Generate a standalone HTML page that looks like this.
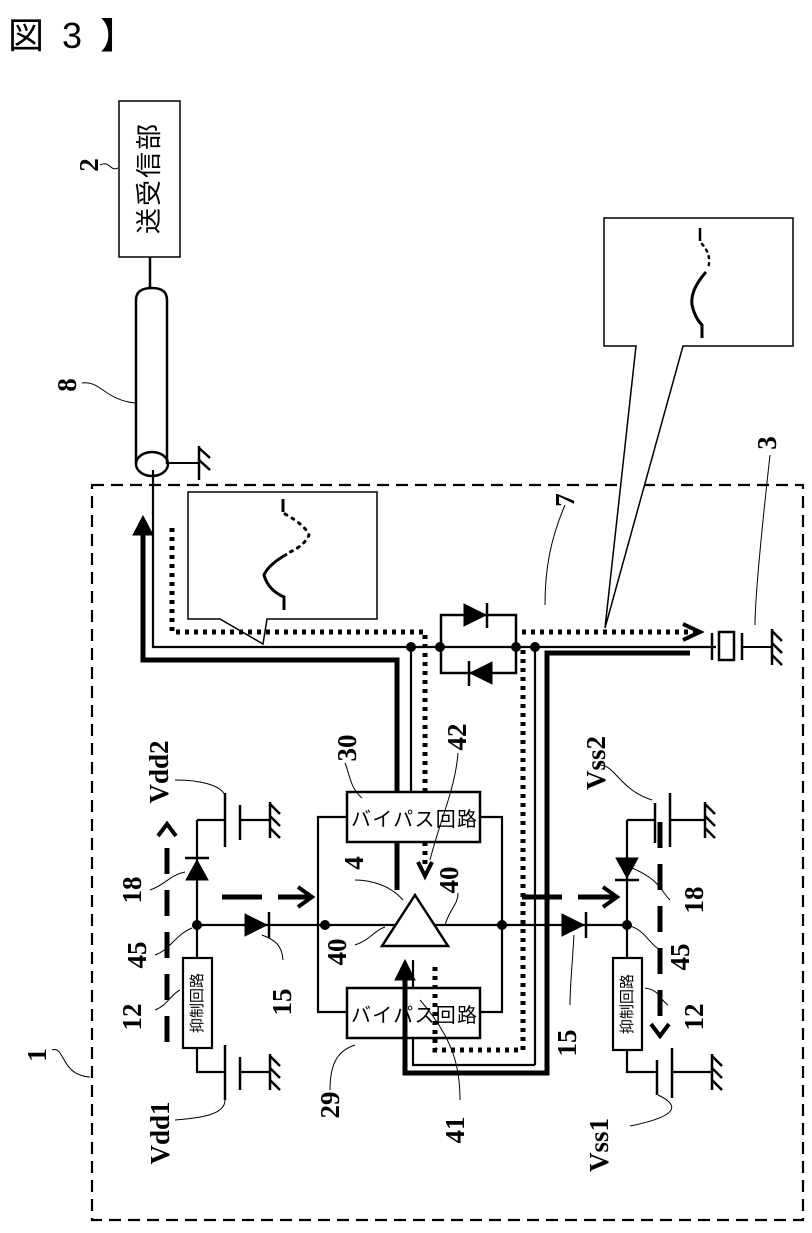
<!DOCTYPE html>
<html><head><meta charset="utf-8"><style>
html,body{margin:0;padding:0;background:#fff}
svg{display:block}
text{font-family:"Liberation Serif","Noto Serif CJK SC",serif;font-weight:bold;fill:#000}
.j{font-family:"Liberation Sans","Noto Sans CJK JP",sans-serif;font-weight:normal}
</style></head><body>
<svg width="812" height="1233" viewBox="0 0 812 1233" xmlns="http://www.w3.org/2000/svg">
<defs>
<g id="gnd"><line x1="0" y1="-18" x2="0" y2="18" stroke="#000" stroke-width="2.5"/><line x1="0" y1="-16" x2="10" y2="-6" stroke="#000" stroke-width="2.5"/><line x1="0" y1="-4" x2="10" y2="6" stroke="#000" stroke-width="2.5"/><line x1="0" y1="8" x2="10" y2="18" stroke="#000" stroke-width="2.5"/></g>
</defs>
<!-- title -->
<text x="8" y="48" class="j" font-size="36">図</text>
<text x="62" y="48" class="j" font-size="36">3</text>
<text x="100" y="48" class="j" font-size="36">】</text>

<g fill="none" stroke="#000">
<rect x="119" y="101" width="61" height="156" stroke-width="1.5"/>
<line x1="150" y1="257" x2="150" y2="288" stroke-width="2.5"/>
<path d="M136,300 Q136,288 152,288 Q167,288 167,300 L167,464 M136,300 L136,464" stroke-width="2.5"/>
<ellipse cx="152" cy="464" rx="16" ry="12" stroke-width="2.5"/>
<line x1="168" y1="463" x2="199" y2="463" stroke-width="2"/>
<line x1="199" y1="446" x2="199" y2="480" stroke-width="2.5"/>
<line x1="199" y1="448" x2="210" y2="458" stroke-width="2.5"/><line x1="199" y1="460" x2="210" y2="470" stroke-width="2.5"/>
<rect x="92" y="485" width="711" height="735" stroke-width="2.2" stroke-dasharray="12,7"/>
<path d="M100,165 C110,160 110,172 118,168" stroke-width="1"/>
<path d="M82,383 C100,380 105,400 135,403" stroke-width="1"/>
<path d="M565,505 C550,540 545,570 545,605" stroke-width="1"/>
<path d="M770,455 C765,500 755,590 755,625" stroke-width="1"/>
<path d="M52,1050 C65,1045 60,1075 90,1077" stroke-width="1"/>
<path d="M188,492 L377,492 L377,619 L267,619 L263,644 L220,619 L188,619 Z" stroke-width="1.5" fill="#fff"/>
<path d="M283,499 L283,512" stroke-width="3"/>
<path d="M285,514 Q305,525 309,535 Q305,545 290,552" stroke-width="3" stroke-dasharray="2,6" stroke-linecap="round"/>
<path d="M287,554 Q268,565 264,575 Q268,590 284,597 L284,610" stroke-width="3"/>
<path d="M604,218 L793,218 L793,346 L683,346 L605,628 L636,346 L604,346 Z" stroke-width="1.5" fill="#fff"/>
<path d="M700,228 L700,241" stroke-width="2.5"/>
<path d="M702,244 Q712,255 708,268" stroke-width="2.5" stroke-dasharray="2,5" stroke-linecap="round"/>
<path d="M706,272 Q690,290 692,305 Q695,318 702,325 L702,338" stroke-width="3"/>

<path d="M153,470 L153,647 L716,647" stroke-width="2.2"/>
<path d="M143,528 L143,660 L397,660 L397,890" stroke-width="5"/>
<path d="M133,535 L143,516 L153,535 Z" fill="#000"/>
<path d="M172,528 L172,632 L425,632 L425,868" stroke-width="5" stroke-dasharray="4,5"/>
<path d="M418,862 L425,876 L432,862" stroke-width="4"/>
<rect x="441" y="615" width="75" height="58" stroke-width="2.5"/>
<path d="M464,604 L464,626 L486,615 Z" fill="#000"/><line x1="487" y1="603" x2="487" y2="628" stroke-width="2.5"/>
<path d="M492,662 L492,684 L470,673 Z" fill="#000"/><line x1="469" y1="661" x2="469" y2="686" stroke-width="2.5"/>
<line x1="411" y1="647" x2="411" y2="792" stroke-width="2.2"/>
<line x1="535" y1="647" x2="535" y2="1065" stroke-width="2.2"/>
<path d="M535,1065 L413,1065 L413,960" stroke-width="2.2"/>
<path d="M690,653 L547,653 L547,1073 L405,1073 L405,975" stroke-width="5"/>
<path d="M395,980 L405,960 L415,980 Z" fill="#000"/>
<path d="M522,632 L698,632" stroke-width="5" stroke-dasharray="4,5"/>
<path d="M683,624 L700,632 L683,640" stroke-width="4"/>
<path d="M523,650 L523,1050 L435,1050 L435,962" stroke-width="5" stroke-dasharray="4,5"/>
<line x1="712" y1="633" x2="712" y2="660" stroke-width="2.5"/>
<rect x="719" y="632" width="15" height="28" stroke-width="2.5"/>
<line x1="742" y1="633" x2="742" y2="660" stroke-width="2.5"/>
<line x1="742" y1="647" x2="772" y2="647" stroke-width="2"/>
</g>
<use href="#gnd" x="772" y="647"/>
<g fill="#000">
<circle cx="411" cy="647" r="5"/><circle cx="440" cy="647" r="5"/><circle cx="516" cy="647" r="5"/><circle cx="535" cy="647" r="5"/>
</g>

<g fill="none" stroke="#000">
<line x1="197" y1="925" x2="625" y2="925" stroke-width="2.2"/>
<path d="M347,817 L318,817 L318,1012 L347,1012" stroke-width="2.2"/>
<path d="M480,817 L502,817 L502,1012 L480,1012" stroke-width="2.2"/>
<rect x="347" y="792" width="133" height="50" stroke-width="2.5" fill="#fff"/>
<rect x="347" y="988" width="133" height="50" stroke-width="2.5" fill="#fff"/>
<path d="M415,895 L448,946 L382,946 Z" stroke-width="2.5" fill="#fff"/>
<line x1="397" y1="842" x2="397" y2="890" stroke-width="5"/>
<line x1="425" y1="842" x2="425" y2="862" stroke-width="5" stroke-dasharray="4,5"/>
<line x1="405" y1="988" x2="405" y2="1038" stroke-width="5"/>
<line x1="435" y1="985" x2="435" y2="1045" stroke-width="5" stroke-dasharray="4,5"/>
<line x1="197" y1="820" x2="197" y2="958" stroke-width="2.2"/>
<line x1="197" y1="820" x2="225" y2="820" stroke-width="2.2"/>
<line x1="225" y1="793" x2="225" y2="847" stroke-width="2.5"/>
<line x1="240" y1="805" x2="240" y2="840" stroke-width="2.5"/>
<line x1="240" y1="820" x2="270" y2="820" stroke-width="2.2"/>
<rect x="183" y="958" width="29" height="90" stroke-width="2.2" fill="#fff"/>
<path d="M197,1048 L197,1072 L225,1072" stroke-width="2.2"/>
<line x1="225" y1="1045" x2="225" y2="1100" stroke-width="2.5"/>
<line x1="240" y1="1057" x2="240" y2="1090" stroke-width="2.5"/>
<line x1="240" y1="1072" x2="270" y2="1072" stroke-width="2.2"/>
<line x1="627" y1="820" x2="627" y2="958" stroke-width="2.2"/>
<line x1="627" y1="820" x2="655" y2="820" stroke-width="2.2"/>
<line x1="655" y1="803" x2="655" y2="843" stroke-width="2.5"/>
<line x1="670" y1="793" x2="670" y2="847" stroke-width="2.5"/>
<line x1="670" y1="820" x2="705" y2="820" stroke-width="2.2"/>
<rect x="613" y="958" width="29" height="92" stroke-width="2.2" fill="#fff"/>
<path d="M627,1050 L627,1072 L657,1072" stroke-width="2.2"/>
<line x1="657" y1="1060" x2="657" y2="1095" stroke-width="2.5"/>
<line x1="672" y1="1048" x2="672" y2="1098" stroke-width="2.5"/>
<line x1="672" y1="1072" x2="712" y2="1072" stroke-width="2.2"/>
<line x1="167" y1="848" x2="167" y2="1050" stroke-width="5" stroke-dasharray="26,16"/>
<path d="M158,836 L167,824 L176,836" stroke-width="4"/>
<line x1="222" y1="897" x2="262" y2="897" stroke-width="5"/>
<line x1="278" y1="897" x2="310" y2="897" stroke-width="5"/>
<path d="M298,887 L312,897 L298,907" stroke-width="4"/>
<line x1="522" y1="897" x2="562" y2="897" stroke-width="5"/>
<line x1="578" y1="897" x2="615" y2="897" stroke-width="5"/>
<path d="M603,887 L617,897 L603,907" stroke-width="4"/>
<line x1="660" y1="822" x2="660" y2="1030" stroke-width="5" stroke-dasharray="26,16"/>
<path d="M651,1024 L660,1036 L669,1024" stroke-width="4"/>
<path d="M150,890 C165,885 170,875 185,872" stroke-width="1"/>
<path d="M155,955 C170,950 175,935 192,928" stroke-width="1"/>
<path d="M155,1010 C168,1005 170,995 180,990" stroke-width="1"/>
<path d="M283,960 C282,945 275,940 262,935" stroke-width="1"/>
<path d="M175,1120 C200,1118 225,1115 225,1100" stroke-width="1"/>
<path d="M175,780 C200,780 220,785 225,795" stroke-width="1"/>
<path d="M355,880 C370,880 390,885 403,900" stroke-width="1"/>
<path d="M355,945 C370,940 375,930 385,927" stroke-width="1"/>
<path d="M458,893 C458,905 450,908 445,925" stroke-width="1"/>
<path d="M345,763 C350,775 350,788 362,798" stroke-width="1"/>
<path d="M458,753 C455,790 440,820 430,860" stroke-width="1"/>
<path d="M330,1090 C330,1060 340,1050 355,1045" stroke-width="1"/>
<path d="M460,1100 C460,1070 455,1040 420,1000" stroke-width="1"/>
<path d="M570,1005 C570,985 572,970 574,935" stroke-width="1"/>
<path d="M600,765 C615,765 620,790 652,800" stroke-width="1"/>
<path d="M670,900 C660,890 660,880 632,868" stroke-width="1"/>
<path d="M660,950 C650,945 645,930 630,926" stroke-width="1"/>
<path d="M668,1005 C660,1000 660,990 645,988" stroke-width="1"/>
<path d="M630,1126 C660,1120 690,1110 658,1095" stroke-width="1"/>
</g>
<use href="#gnd" x="270" y="820"/>
<use href="#gnd" x="270" y="1072"/>
<use href="#gnd" x="705" y="820"/>
<use href="#gnd" x="712" y="1072"/>
<g fill="#000" stroke="#000">
<path d="M186,880 L208,880 L197,860 Z"/><line x1="185" y1="858" x2="209" y2="858" stroke-width="2.5"/>
<path d="M245,914 L245,936 L267,925 Z"/><line x1="269" y1="912" x2="269" y2="938" stroke-width="2.5"/>
<path d="M616,858 L638,858 L627,878 Z"/><line x1="615" y1="880" x2="639" y2="880" stroke-width="2.5"/>
<path d="M562,914 L562,936 L584,925 Z"/><line x1="586" y1="912" x2="586" y2="938" stroke-width="2.5"/>
<circle cx="197" cy="925" r="5" stroke="none"/><circle cx="325" cy="925" r="5" stroke="none"/>
<circle cx="502" cy="925" r="5" stroke="none"/><circle cx="627" cy="925" r="5" stroke="none"/>
</g>

<text class="j" font-size="26" transform="translate(151,179) rotate(-90)" text-anchor="middle" dominant-baseline="middle" textLength="110">送受信部</text>
<text class="j" font-size="15" transform="translate(198,1003) rotate(-90)" text-anchor="middle" dominant-baseline="middle">抑制回路</text>
<text class="j" font-size="15" transform="translate(628,1004) rotate(-90)" text-anchor="middle" dominant-baseline="middle">抑制回路</text>
<text class="j" font-size="20" x="351" y="826" textLength="126">バイパス回路</text>
<text class="j" font-size="20" x="351" y="1022" textLength="126">バイパス回路</text>

<g font-size="27">
<text transform="translate(92,165) rotate(-90)" text-anchor="middle" dominant-baseline="middle">2</text>
<text transform="translate(70,385) rotate(-90)" text-anchor="middle" dominant-baseline="middle">8</text>
<text transform="translate(568,500) rotate(-90)" text-anchor="middle" dominant-baseline="middle">7</text>
<text transform="translate(770,443) rotate(-90)" text-anchor="middle" dominant-baseline="middle">3</text>
<text transform="translate(40,1055) rotate(-90)" text-anchor="middle" dominant-baseline="middle">1</text>
<text transform="translate(162,772) rotate(-90)" text-anchor="middle" dominant-baseline="middle">Vdd2</text>
<text transform="translate(135,890) rotate(-90)" text-anchor="middle" dominant-baseline="middle">18</text>
<text transform="translate(140,955) rotate(-90)" text-anchor="middle" dominant-baseline="middle">45</text>
<text transform="translate(135,1017) rotate(-90)" text-anchor="middle" dominant-baseline="middle">12</text>
<text transform="translate(285,1002) rotate(-90)" text-anchor="middle" dominant-baseline="middle">15</text>
<text transform="translate(163,1133) rotate(-90)" text-anchor="middle" dominant-baseline="middle">Vdd1</text>
<text transform="translate(350,748) rotate(-90)" text-anchor="middle" dominant-baseline="middle">30</text>
<text transform="translate(460,737) rotate(-90)" text-anchor="middle" dominant-baseline="middle">42</text>
<text transform="translate(357,863) rotate(-90)" text-anchor="middle" dominant-baseline="middle">4</text>
<text transform="translate(452,880) rotate(-90)" text-anchor="middle" dominant-baseline="middle">40</text>
<text transform="translate(340,952) rotate(-90)" text-anchor="middle" dominant-baseline="middle">40</text>
<text transform="translate(333,1105) rotate(-90)" text-anchor="middle" dominant-baseline="middle">29</text>
<text transform="translate(458,1130) rotate(-90)" text-anchor="middle" dominant-baseline="middle">41</text>
<text transform="translate(599,763) rotate(-90)" text-anchor="middle" dominant-baseline="middle">Vss2</text>
<text transform="translate(697,900) rotate(-90)" text-anchor="middle" dominant-baseline="middle">18</text>
<text transform="translate(683,957) rotate(-90)" text-anchor="middle" dominant-baseline="middle">45</text>
<text transform="translate(697,1017) rotate(-90)" text-anchor="middle" dominant-baseline="middle">12</text>
<text transform="translate(570,1043) rotate(-90)" text-anchor="middle" dominant-baseline="middle">15</text>
<text transform="translate(602,1145) rotate(-90)" text-anchor="middle" dominant-baseline="middle">Vss1</text>
</g>
</svg>
</body></html>
